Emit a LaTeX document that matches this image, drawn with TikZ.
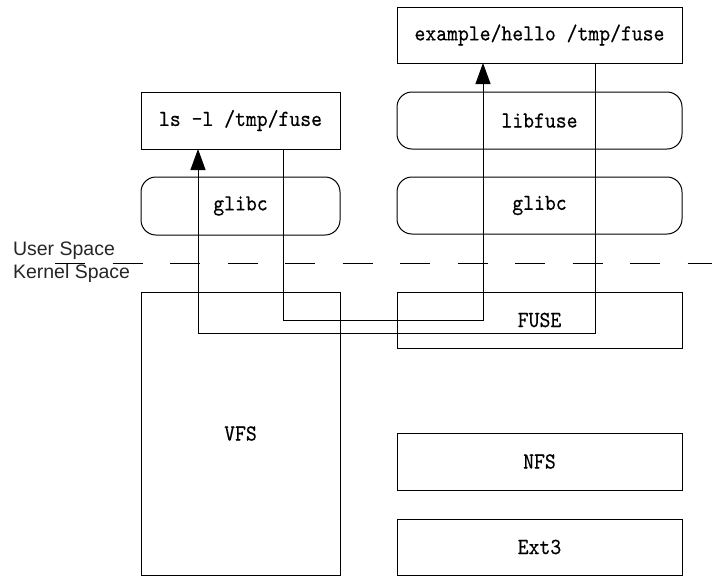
\documentclass[tikz,border=0pt]{standalone}
\usepackage{fontspec}
\setmainfont{Liberation Sans}
\newfontfamily\monof{lmmono10-regular.otf}[FakeStretch=0.9,FakeBold=0.4]
\usetikzlibrary{arrows.meta}
\begin{document}
\begin{tikzpicture}[x=1pt,y=-1pt,
  every node/.style={inner sep=0pt, outer sep=0pt},
  box/.style={draw, line width=1pt, font=\monof\fontsize{23}{27}\selectfont},
  rbox/.style={box, rounded corners=15pt},
  flow/.style={line width=1pt, -{Triangle[length=21pt,width=15pt]}},
  sep/.style={line width=1pt, dash pattern=on 30pt off 27.5pt},
  lbl/.style={anchor=west, text=black!85, font=\fontsize{19.5}{22}\selectfont}]
\useasboundingbox (0,0) rectangle (712,576);
% user space
\node[box, minimum width=199pt, minimum height=57pt] (ls) at (240.5,120.5) {ls -l /tmp/fuse};
\node[rbox, minimum width=199pt, minimum height=58pt] (glibcL) at (240.5,206) {glibc};
\node[box, minimum width=285pt, minimum height=56pt] (ex) at (539.5,35) {example/hello /tmp/fuse};
\node[rbox, minimum width=285pt, minimum height=57pt] (libfuse) at (539.5,120.5) {libfuse};
\node[rbox, minimum width=285pt, minimum height=57pt] (glibcR) at (539.5,205.5) {glibc};
% kernel space
\node[box, minimum width=199pt, minimum height=283pt] (vfs) at (240.5,433.5) {VFS};
\node[box, minimum width=285pt, minimum height=56pt] (fuse) at (539.5,320) {FUSE};
\node[box, minimum width=285pt, minimum height=57pt] (nfs) at (539.5,461.5) {NFS};
\node[box, minimum width=285pt, minimum height=56pt] (ext) at (539.5,547) {Ext3};
% separator
\coordinate (d0) at (55,263);
\coordinate (d1) at (712,263);
\draw[sep] (d0) -- (d1);
\node[lbl] (us) at (13,251) {User Space};
\node[lbl] (ks) at (13,273) {Kernel Space};
% flows
\coordinate (c1) at (283,320);
\coordinate (c2) at (483,320);
\coordinate (c3) at (595,333);
\coordinate (c4) at (198,333);
\draw[flow] (ls.south -| c1) |- (c2) -- (ex.south -| c2);
\draw[flow] (ex.south -| c3) |- (c4) -- (ls.south -| c4);
\end{tikzpicture}
\end{document}
